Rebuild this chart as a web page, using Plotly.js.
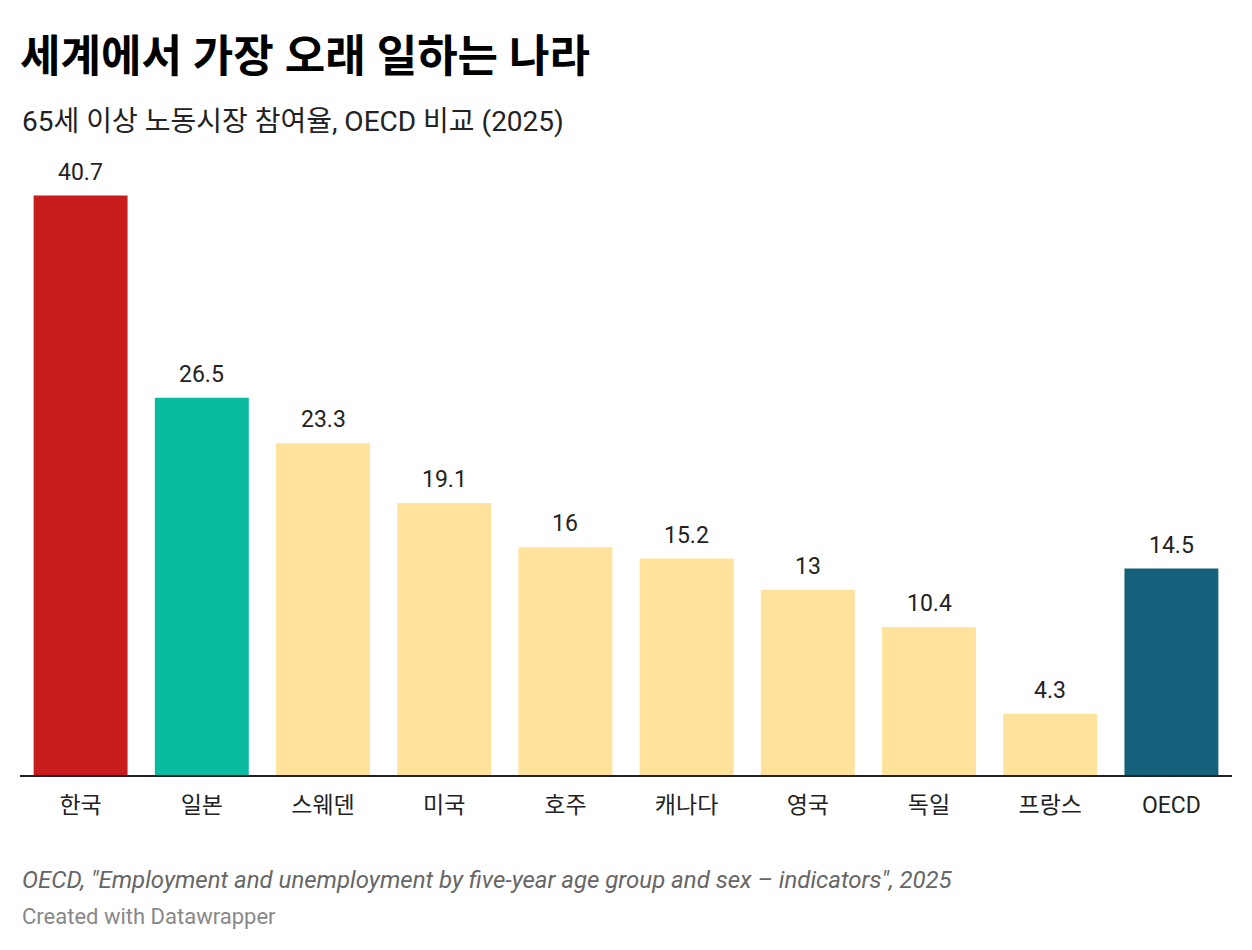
<!DOCTYPE html>
<html>
<head>
<meta charset="utf-8">
<script src="https://cdn.plot.ly/plotly-3.0.1.min.js"></script>
<style>
  html, body { margin: 0; padding: 0; background: #fff; }
  #chart { width: 1252px; height: 950px; }
</style>
</head>
<body>
<div id="chart"></div>
<script>
// 65세 이상 노동시장 참여율 (%)
const countries = ["한국", "일본", "스웨덴", "미국", "호주", "캐나다", "영국", "독일", "프랑스", "OECD"];
const rates = [40.7, 26.5, 23.3, 19.1, 16, 15.2, 13, 10.4, 4.3, 14.5];
const barColors = ["#c71e1d", "#09bb9f", "#ffe39c", "#ffe39c", "#ffe39c", "#ffe39c", "#ffe39c", "#ffe39c", "#ffe39c", "#15607a"];

const FONT = "Roboto, 'Noto Sans CJK KR', sans-serif";

let trace = {
    type: "bar",
    x: countries,
    y: rates,
    marker: { color: barColors },
    hoverinfo: "x+y"
};

// value labels above bars, placed on the data axes
let valueLabels = countries.map((c, i) => ({
    x: c, y: rates[i],
    xref: "x", yref: "y",
    text: String(rates[i]),
    showarrow: false,
    yanchor: "bottom",
    yshift: 8,
    font: { family: FONT, size: 23, color: "#222" }
}));

let layout = {
    width: 1252,
    height: 950,
    margin: { l: 20, r: 20, t: 150, b: 175 },
    paper_bgcolor: "#fff",
    plot_bgcolor: "#fff",
    font: { family: FONT, color: "#222" },
    bargap: 0.225,
    showlegend: false,
    title: {
        text: "<b>세계에서 가장 오래 일하는 나라</b>",
        font: { family: FONT, size: 44, color: "#000" },
        x: 20 / 1252, xanchor: "left",
        xref: "container", yref: "container",
        y: 1 - 57 / 950, yanchor: "middle"
    },
    xaxis: {
        type: "category",
        showline: true, linecolor: "#222", linewidth: 2,
        ticks: "", showgrid: false,
        ticklabelstandoff: 8,
        tickfont: { family: FONT, size: 23, color: "#222" },
        fixedrange: true
    },
    yaxis: {
        range: [0, 43.9],
        visible: false,
        showgrid: false, zeroline: false,
        fixedrange: true
    },
    annotations: valueLabels.concat([
        {
            text: "65세 이상 노동시장 참여율, OECD 비교 (2025)",
            xref: "paper", yref: "paper",
            x: 0, y: (775 - 121) / 625,
            xanchor: "left", yanchor: "middle",
            showarrow: false,
            font: { family: FONT, size: 28, color: "#222" }
        },
        {
            text: "<i>OECD, \"Employment and unemployment by five-year age group and sex – indicators\", 2025</i>",
            xref: "paper", yref: "paper",
            x: 0, y: (775 - 880) / 625,
            xanchor: "left", yanchor: "middle",
            showarrow: false,
            font: { family: FONT, size: 24, color: "#666" }
        },
        {
            text: "Created with Datawrapper",
            xref: "paper", yref: "paper",
            x: 0, y: (775 - 916) / 625,
            xanchor: "left", yanchor: "middle",
            showarrow: false,
            font: { family: FONT, size: 22, color: "#888" }
        }
    ])
};

Plotly.newPlot("chart", [trace], layout, { displayModeBar: false, staticPlot: true });
</script>
</body>
</html>
